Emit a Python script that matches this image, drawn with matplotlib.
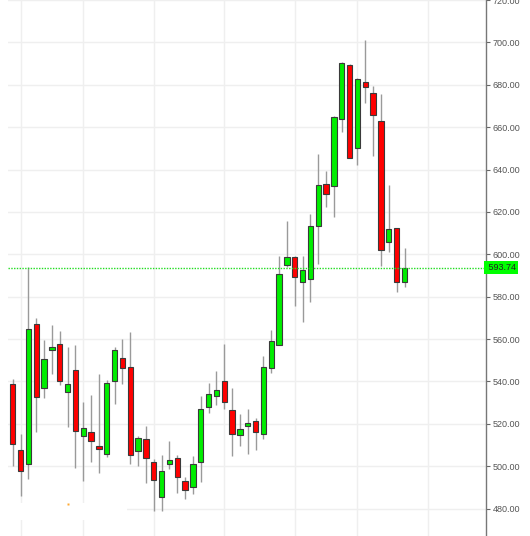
import matplotlib
matplotlib.use("Agg")
import matplotlib.pyplot as plt
import matplotlib.transforms as mtransforms
from matplotlib.patches import Rectangle
import numpy as np

opens = [539, 507.5, 501, 567, 537, 555, 557.5, 535, 545.5, 514.5,
         516.3, 509.5, 506, 540, 551, 547, 507, 512.7, 502, 485.5,
         501, 504, 493, 490, 502, 528, 533, 540, 526.4, 514.6,
         519.2, 521.4, 515.4, 546.2, 557, 594.8, 598.6, 587, 588.2, 613.3,
         633.3, 632.2, 663.7, 689.3, 650.3, 681.1, 676, 663, 606, 612.3,
         587]
highs = [541, 515, 594, 570, 559.5, 566.5, 564, 556.5, 557, 530.5,
         533.5, 543.5, 540.5, 556.5, 560, 563.5, 514.5, 519, 503.3, 505.5,
         512, 505.3, 495, 505, 533.3, 539.2, 545, 557.5, 536.8, 524.7,
         527, 522.6, 552, 564.3, 599, 615.7, 599, 599.3, 619, 647.2,
         639.4, 665.2, 690.9, 690, 683.3, 701, 679.5, 675.6, 632.7, 612.5,
         602.8]
lows = [500, 486, 494, 516, 532, 543.5, 538.5, 518.5, 499, 493,
        502, 497, 504.5, 529.5, 539, 501, 500, 492, 479, 479,
        498.7, 487.5, 484.5, 487, 492.7, 525, 529, 527, 505, 509.6,
        505.8, 507.7, 512.7, 544.2, 557, 594.2, 575.6, 568.2, 577.4, 595.3,
        622.2, 617.5, 657.5, 645.6, 642.1, 671.5, 646.4, 594.5, 601.2, 582,
        584.7]
closes = [510.5, 498, 565, 532.5, 550.5, 556.3, 540, 539, 516.5, 518,
          512, 508, 539.5, 555, 546.5, 505.5, 513.5, 504, 493.5, 498,
          503, 495, 489, 501, 527, 534.2, 536, 530.5, 515.2, 517.6,
          520.6, 516, 547, 559, 590.7, 598.6, 589.4, 592.4, 613.3, 632.7,
          628.3, 664.9, 690.2, 645.6, 682.7, 678.8, 665.7, 602, 611.8, 587,
          593.74]
last_price = 593.74
y_ticks = [480, 500, 520, 540, 560, 580, 600, 620, 640, 660, 680, 700, 720]
x_grid = [1, 9, 18, 27, 36, 44, 53]

W, H = 530, 536
fig = plt.figure(figsize=(W / 100, H / 100), dpi=100)
ax = fig.add_axes([8 / W, 0, (486 - 8) / W, 1])

x = np.arange(len(opens))
o = np.array(opens); c = np.array(closes)
hi = np.array(highs); lo = np.array(lows)
up = c >= o
colors = np.where(up, '#00ee00', '#ff0000')

ax.vlines(x, lo, hi, color='#9a9a9a', lw=1.0, zorder=2)
ax.bar(x, np.abs(c - o), bottom=np.minimum(o, c), width=0.68,
       color=colors, edgecolor='#3a3a3a', linewidth=0.8, zorder=3)

ax.set_xlim(-0.6, 60.4)
ax.set_ylim(467.1, 720.0)

ax.set_yticks(y_ticks)
ax.set_yticklabels([f"{v:.2f}" for v in y_ticks])
ax.yaxis.tick_right()
ax.tick_params(axis='y', direction='out', length=3, width=0.8, colors='#666666',
               labelcolor='#555555', labelsize=6.5, pad=2)
for lab in ax.get_yticklabels():
    lab.set_family('Liberation Sans')

ax.set_xticks(x_grid)
ax.set_xticklabels([])
ax.tick_params(axis='x', length=0)

ax.grid(True, color='#efefef', lw=1.0, zorder=0)
ax.set_axisbelow(True)

for s in ['left', 'top', 'bottom']:
    ax.spines[s].set_visible(False)
ax.spines['right'].set_color('#777777')
ax.spines['right'].set_linewidth(1.0)

ax.axhline(last_price, color='#22dd22', ls=(0, (1, 1)), lw=1.0, zorder=4)
trans = mtransforms.blended_transform_factory(ax.transAxes, ax.transData)
ax.text(1.0, last_price, f" {last_price:.2f}", transform=trans, ha='left', va='center',
        fontsize=6.5, family='Liberation Sans', color='#222222', zorder=6, clip_on=False,
        bbox=dict(boxstyle='square,pad=0.25', facecolor='#00ff00', edgecolor='none'))

ax.add_patch(Rectangle((0, 0.03), 0.249, 0.031, transform=ax.transAxes,
                       facecolor='white', edgecolor='none', zorder=1))
ax.plot([0.1255], [0.0597], transform=ax.transAxes, marker='s', ms=1.5,
        color='#ffaa33', mec='none', zorder=5, clip_on=False)

fig.savefig('out.png', dpi=100)
